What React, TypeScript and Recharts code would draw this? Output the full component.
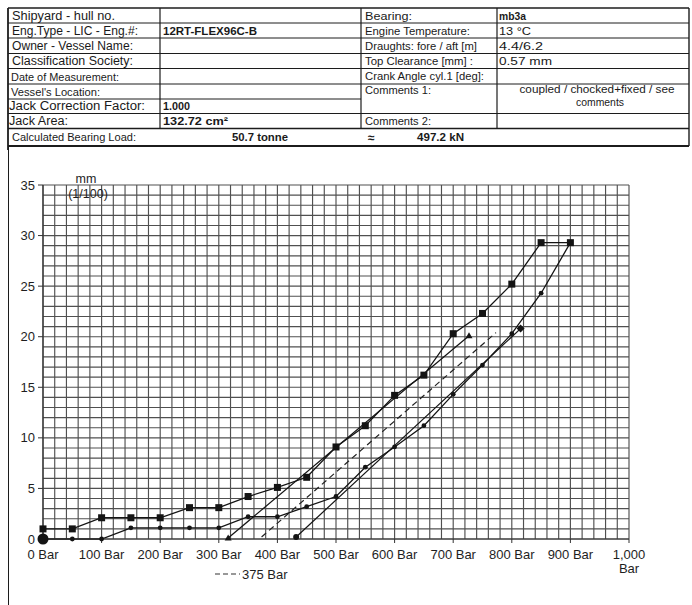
import React from 'react';
import { LineChart, Line, XAxis, YAxis, CartesianGrid } from 'recharts';

const FONT = '"Liberation Sans", Arial, Helvetica, sans-serif';

// ---- chart data (pressure in Bar, lift in mm/100) ----
const pressureSteps = [0, 50, 100, 150, 200, 250, 300, 350, 400, 450, 500, 550, 600, 650, 700, 750, 800, 850, 900];
const liftSquares = [1.0, 1.0, 2.1, 2.1, 2.1, 3.1, 3.1, 4.2, 5.1, 6.1, 9.1, 11.2, 14.2, 16.2, 20.3, 22.3, 25.2, 29.3, 29.3];
const liftDots = [0, 0, 0, 1.1, 1.1, 1.1, 1.1, 2.2, 2.2, 3.2, 4.2, 7.1, 9.1, 11.2, 14.3, 17.2, 20.3, 24.3, 29.3];
const trianglePressure = [316, 727];
const triangleLift = [0.1, 20.1];
const dashedPressure = [373, 773];
const dashedLift = [0.2, 20.4];
const diamondPressure = [432, 815];
const diamondLift = [0.2, 20.8];

const xTicks = [0, 100, 200, 300, 400, 500, 600, 700, 800, 900, 1000];
const xTickLabels = ['0 Bar', '100 Bar', '200 Bar', '300 Bar', '400 Bar', '500 Bar', '600 Bar', '700 Bar', '800 Bar', '900 Bar', '1,000 Bar'];
const yTicks = [0, 5, 10, 15, 20, 25, 30, 35];
const legendLabel = '375 Bar';
const yUnitLines = ['mm', '(1/100)'];

const gridXValues = Array.from({ length: 51 }, (_, i) => i * 20);
const gridYValues = Array.from({ length: 36 }, (_, i) => i);

const toPoints = (xs: number[], ys: number[]) => xs.map((p, i) => ({ p, v: ys[i] }));
const squareData = toPoints(pressureSteps, liftSquares);
const dotData = toPoints(pressureSteps, liftDots);
const triangleData = toPoints(trianglePressure, triangleLift);
const dashedData = toPoints(dashedPressure, dashedLift);
const diamondData = toPoints(diamondPressure, diamondLift);

const INK = '#141414';

const SquareDot = (props: any) => {
  const { cx, cy, index } = props;
  if (cx == null || cy == null) return <g key={`sq-${index}`} />;
  return <rect key={`sq-${index}`} x={cx - 3.5} y={cy - 3.5} width={7} height={7} fill={INK} />;
};
const RoundDot = (props: any) => {
  const { cx, cy, index } = props;
  if (cx == null || cy == null) return <g key={`rd-${index}`} />;
  return <circle key={`rd-${index}`} cx={cx} cy={cy} r={index === 0 ? 5.5 : 2.4} fill={INK} />;
};
const TriangleDot = (props: any) => {
  const { cx, cy, index } = props;
  if (cx == null || cy == null) return <g key={`tr-${index}`} />;
  return <path key={`tr-${index}`} d={`M${cx},${cy - 3.5} L${cx + 3.5},${cy + 2.5} L${cx - 3.5},${cy + 2.5} Z`} fill={INK} />;
};
const EndDot = (props: any) => {
  const { cx, cy, index } = props;
  if (cx == null || cy == null) return <g key={`ed-${index}`} />;
  if (index === 0) return <circle key={`ed-${index}`} cx={cx} cy={cy} r={3} fill={INK} />;
  return <path key={`ed-${index}`} d={`M${cx},${cy - 4} L${cx + 4},${cy} L${cx},${cy + 4} L${cx - 4},${cy} Z`} fill={INK} />;
};

const XTick = (props: any) => {
  const { x, y, payload } = props;
  const idx = xTicks.indexOf(payload.value);
  const label = idx >= 0 ? xTickLabels[idx] : String(payload.value);
  const lines = label.length > 8 ? label.split(' ') : [label];
  return (
    <text x={x} y={y} textAnchor="middle" fontSize={13} fill="#1e1e1e" fontFamily={FONT}>
      {lines.map((l, i) => (
        <tspan key={i} x={x} dy={i === 0 ? '0.8em' : '1.05em'}>{l}</tspan>
      ))}
    </text>
  );
};

const scaleOf = (axis: any, v: number, fallback: number) => {
  const s = axis && axis.scale;
  if (typeof s === 'function') return s(v);
  if (s && typeof s.map === 'function') return s.map(v);
  return fallback;
};

const verticalGen = (props: any) => {
  const { xAxis, offset } = props;
  return gridXValues.map((v) => scaleOf(xAxis, v, offset.left + (v / 1000) * offset.width));
};
const horizontalGen = (props: any) => {
  const { yAxis, offset } = props;
  return gridYValues.map((v) => scaleOf(yAxis, v, offset.top + offset.height - (v / 35) * offset.height));
};

// ---- header table ----
type Cell = { t: string; x: number; y: number; w?: number; size?: number; bold?: boolean; anchor?: 'start' | 'middle' };
const headerTexts: Cell[] = [
  { t: 'Shipyard - hull no.', x: 12, y: 16, w: 103, size: 12 },
  { t: 'Eng.Type - LIC - Eng.#:', x: 12, y: 31, w: 126, size: 12 },
  { t: 'Owner - Vessel Name:', x: 12, y: 46, w: 121, size: 12 },
  { t: 'Classification Society:', x: 12, y: 61, w: 121, size: 12 },
  { t: 'Date of Measurement:', x: 11, y: 76.5, w: 108, size: 10.5 },
  { t: "Vessel's Location:", x: 11, y: 91.5, w: 89, size: 10.5 },
  { t: 'Jack Correction Factor:', x: 9, y: 106, w: 136, size: 12 },
  { t: 'Jack Area:', x: 9, y: 121, w: 59, size: 12 },
  { t: 'Calculated Bearing Load:', x: 12, y: 137, w: 124, size: 10.5 },
  { t: '12RT-FLEX96C-B', x: 163, y: 31, w: 94, size: 10.5, bold: true },
  { t: '1.000', x: 163, y: 106, w: 27, size: 10.5, bold: true },
  { t: '132.72 cm²', x: 163, y: 121, w: 65, size: 10.5, bold: true },
  { t: '50.7 tonne', x: 232, y: 137, w: 56, size: 10.5, bold: true },
  { t: 'Bearing:', x: 365, y: 15.5, w: 47, size: 11 },
  { t: 'Engine Temperature:', x: 365, y: 30.5, w: 105, size: 11 },
  { t: 'Draughts: fore / aft [m]', x: 365, y: 45.5, w: 112, size: 11 },
  { t: 'Top Clearance [mm] :', x: 365, y: 61, w: 108, size: 11 },
  { t: 'Crank Angle cyl.1 [deg]:', x: 365, y: 75.5, w: 119, size: 11 },
  { t: 'Comments 1:', x: 365, y: 89.5, w: 66, size: 11 },
  { t: 'Comments 2:', x: 365, y: 121, w: 66, size: 11 },
  { t: 'mb3a', x: 499, y: 15.5, w: 27, size: 10.5, bold: true },
  { t: '13 °C', x: 499, y: 30.5, w: 32, size: 10.5 },
  { t: '4.4/6.2', x: 499, y: 45.5, w: 44, size: 10.5 },
  { t: '0.57 mm', x: 499, y: 61, w: 53, size: 10.5 },
  { t: 'coupled / chocked+fixed / see', x: 597, y: 89, w: 155, size: 10.5, anchor: 'middle' },
  { t: 'comments', x: 600, y: 101.5, w: 48, size: 10.5, anchor: 'middle' },
  { t: '≈', x: 368, y: 138, size: 12, bold: true },
  { t: '497.2 kN', x: 417, y: 137, w: 47, size: 10.5, bold: true },
];
const leftRowLines = [23, 38, 53.5, 68.5, 84, 99, 113.5];
const rightRowLines = [23, 38, 53.5, 68.5, 84, 113.5];

const Header = () => (
  <svg width={692} height={150} style={{ position: 'absolute', left: 0, top: 0 }}>
    <g stroke="#1c1c1c" fill="none">
      <line x1={8} y1={8} x2={689} y2={8} strokeWidth={1.6} />
      <line x1={8} y1={128.5} x2={689} y2={128.5} strokeWidth={1.4} />
      <line x1={8} y1={146} x2={689} y2={146} strokeWidth={2} />
      {leftRowLines.map((y) => <line key={`l${y}`} x1={8} y1={y} x2={361} y2={y} strokeWidth={1} />)}
      {rightRowLines.map((y) => <line key={`r${y}`} x1={361} y1={y} x2={689} y2={y} strokeWidth={1} />)}
      <line x1={8} y1={8} x2={8} y2={150} strokeWidth={1.8} />
      <line x1={160} y1={8} x2={160} y2={128.5} strokeWidth={1.2} />
      <line x1={361} y1={8} x2={361} y2={128.5} strokeWidth={1.2} />
      <line x1={497} y1={8} x2={497} y2={128.5} strokeWidth={1.2} />
      <line x1={689} y1={8} x2={689} y2={146} strokeWidth={1.4} />
    </g>
    {headerTexts.map((c, i) => (
      <text
        key={i}
        x={c.x}
        y={c.y}
        dominantBaseline="central"
        textAnchor={c.anchor || 'start'}
        fontSize={c.size || 11}
        fontWeight={c.bold ? 700 : 400}
        fontFamily={FONT}
        fill="#1a1a1a"
        {...(c.w ? { textLength: c.w, lengthAdjust: 'spacingAndGlyphs' } : {})}
      >
        {c.t}
      </text>
    ))}
  </svg>
);

export default function App() {
  return (
    <div style={{ position: 'absolute', left: 0, top: 0, width: 692, height: 605, background: '#fff', overflow: 'hidden', fontFamily: FONT }}>
      <div style={{ position: 'absolute', left: 8, top: 146, width: 0, height: 459, borderLeft: '1.8px solid #1c1c1c' }} />
      <div style={{ position: 'absolute', left: 0, top: 0 }}>
        <LineChart width={692} height={605} margin={{ top: 185, right: 63, bottom: 36, left: 8 }}>
          <CartesianGrid
            stroke="#505050"
            strokeWidth={1.15}
            verticalCoordinatesGenerator={verticalGen}
            horizontalCoordinatesGenerator={horizontalGen}
          />
          <XAxis
            type="number"
            dataKey="p"
            domain={[0, 1000]}
            ticks={xTicks}
            interval={0}
            height={30}
            tickSize={4}
            tickMargin={6}
            tick={<XTick />}
            axisLine={{ stroke: '#333', strokeWidth: 1.2 }}
            tickLine={{ stroke: '#333' }}
          />
          <YAxis
            type="number"
            domain={[0, 35]}
            ticks={yTicks}
            interval={0}
            width={35}
            tickSize={5}
            tickMargin={3}
            tick={{ fontSize: 13, fill: '#1e1e1e', fontFamily: FONT }}
            axisLine={{ stroke: '#333', strokeWidth: 1.2 }}
            tickLine={{ stroke: '#333' }}
          />
          <Line data={dashedData} dataKey="v" type="linear" stroke="#222" strokeWidth={1.2} strokeDasharray="6 4" dot={false} activeDot={false} isAnimationActive={false} name={legendLabel} />
          <Line data={triangleData} dataKey="v" type="linear" stroke={INK} strokeWidth={1.2} dot={TriangleDot} activeDot={false} isAnimationActive={false} />
          <Line data={diamondData} dataKey="v" type="linear" stroke={INK} strokeWidth={1.2} dot={EndDot} activeDot={false} isAnimationActive={false} />
          <Line data={dotData} dataKey="v" type="linear" stroke={INK} strokeWidth={1.3} dot={RoundDot} activeDot={false} isAnimationActive={false} />
          <Line data={squareData} dataKey="v" type="linear" stroke={INK} strokeWidth={1.3} dot={SquareDot} activeDot={false} isAnimationActive={false} />
        </LineChart>
      </div>
      <Header />
      <svg width={692} height={605} style={{ position: 'absolute', left: 0, top: 0, pointerEvents: 'none' }}>
        <text x={86} y={179} textAnchor="middle" dominantBaseline="central" fontSize={12.5} fontFamily={FONT} fill="#1e1e1e">{yUnitLines[0]}</text>
        <text x={88} y={193.5} textAnchor="middle" dominantBaseline="central" fontSize={12.5} fontFamily={FONT} fill="#1e1e1e">{yUnitLines[1]}</text>
        <line x1={215} y1={574} x2={240} y2={574} stroke="#333" strokeWidth={1.2} strokeDasharray="5 3" />
        <text x={242} y={574.5} dominantBaseline="central" fontSize={13} fontFamily={FONT} fill="#1e1e1e">{legendLabel}</text>
      </svg>
    </div>
  );
}
